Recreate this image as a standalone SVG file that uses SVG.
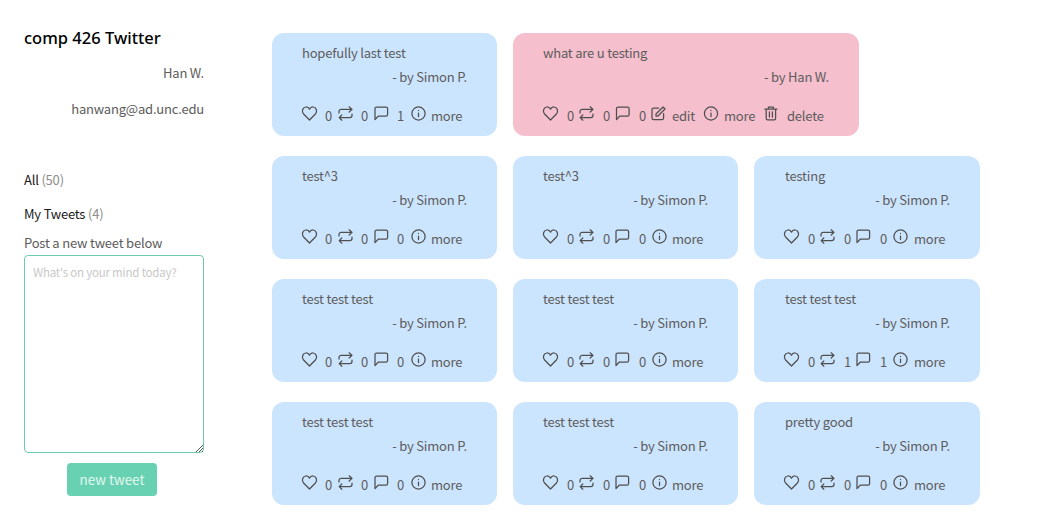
<svg xmlns="http://www.w3.org/2000/svg" width="1060" height="516" viewBox="0 0 1060 516">
<style>
text{font-family:"Noto Sans CJK SC","Noto Sans","Open Sans",sans-serif;font-size:13px;letter-spacing:-.2px;fill:#5c5c5c}
.blue{fill:#cce5fe}
.pink{fill:#f5bfcd}
.r{text-anchor:end}
.ic{fill:none;stroke:#4f4f4f;stroke-width:1.25;stroke-linecap:round;stroke-linejoin:round}
.dk{fill:#1a1a1a}
.cnt{fill:#8c8c8c}
</style>
<defs>
<g id="heart" class="ic"><path d="M7.500 14 L1.600 8 C-.6 5.600 .4 1.400 3.800 1 C5.400 .8 6.800 1.700 7.500 3.200 C8.200 1.700 9.600 .8 11.200 1 C14.600 1.400 15.600 5.600 13.400 8 Z"/></g>
<g id="rt" class="ic"><path d="M1 7 V5.500 C1 4.300 2 3.400 3.200 3.400 H14 M11.200 .8 L14 3.400 L11.200 6 M14 8 V9.500 C14 10.700 13 11.600 11.800 11.600 H1.200 M3.800 9 L1.200 11.600 L3.800 14.200"/></g>
<g id="cm" class="ic"><path d="M1 13.600 V2.600 C1 1.600 1.700 1 2.600 1 H12 C12.900 1 13.600 1.600 13.600 2.600 V8.400 C13.600 9.400 12.900 10 12 10 H4.400 Z"/></g>
<g id="info" class="ic"><circle cx="7.500" cy="7.500" r="6.600"/><path d="M7.500 7 V10.600 M7.500 4.400 V4.600"/></g>
<g id="edit" class="ic"><path d="M12.600 7.600 V12 C12.600 13 11.900 13.600 11 13.600 H2.600 C1.700 13.600 1 13 1 12 V3.600 C1 2.700 1.700 2 2.600 2 H7.600 M5 8 L5 10 L7 10 L14 3 L12 1 Z"/></g>
<g id="trash" class="ic"><path d="M.8 3 H13 M4.400 3 V1 H9.400 V3 M2.200 3 V12.400 C2.200 13.200 2.800 13.800 3.600 13.800 H10.200 C11 13.800 11.600 13.200 11.600 12.400 V3 M5.400 5.800 V11 M8.400 5.800 V11"/></g>
<g id="stats">
<use href="#heart" x="30" y="73"/><use href="#rt" x="66" y="73"/><use href="#cm" x="102" y="73"/><use href="#info" x="139" y="73"/>
</g>
</defs>
<rect width="1060" height="516" fill="#fff"/>
<g id="sidebar">
<text x="24" y="44" style="font-family:'Noto Sans',sans-serif;font-size:16.500px;font-weight:500;letter-spacing:0;fill:#000">comp 426 Twitter</text>
<text x="204" y="78" class="r">Han W.</text>
<text x="204" y="114" class="r">hanwang@ad.unc.edu</text>
<text x="24" y="185" class="dk">All <tspan class="cnt">(50)</tspan></text>
<text x="24" y="219" class="dk">My Tweets <tspan class="cnt">(4)</tspan></text>
<text x="24" y="248">Post a new tweet below</text>
</g>
<g id="tweet-input">
<rect x="24.500" y="255.500" width="179" height="197" rx="3.500" fill="#fff" stroke="#6fc9ae"/>
<text x="33" y="277" style="font-size:11.500px;fill:#c8c8c8">What's on your mind today?</text>
<path d="M196 452 L203 445 M199 452 L203 448 M202 452 L203 451" stroke="#555" stroke-width="1" fill="none"/>
</g>
<g id="new-tweet">
<rect x="67" y="463" width="90" height="33" rx="4" fill="#68d1b1"/>
<text x="112" y="485" text-anchor="middle" style="font-size:13.400px;letter-spacing:0;fill:#e4f8f1">new tweet</text>
</g>
<g id="tweet-1" transform="translate(272 33)"><rect class="blue" width="225" height="103" rx="12"/><text x="30" y="25">hopefully last test</text><text x="195" y="49" class="r">- by Simon P.</text><use href="#stats"/><text x="53" y="88">0</text><text x="89" y="88">0</text><text x="125" y="88">1</text><text x="159" y="88">more</text></g>
<g id="tweet-2" transform="translate(513 33)"><rect class="pink" width="346" height="103" rx="12"/><text x="30" y="25">what are u testing</text><text x="316" y="49" class="r">- by Han W.</text><use href="#heart" x="30" y="73"/><use href="#rt" x="66" y="73"/><use href="#cm" x="102.500" y="73"/><use href="#edit" x="138" y="73"/><use href="#info" x="190.500" y="73"/><use href="#trash" x="251" y="73"/><text x="54" y="88">0</text><text x="90" y="88">0</text><text x="126" y="88">0</text><text x="159" y="88">edit</text><text x="211" y="88">more</text><text x="274" y="88">delete</text></g>
<g id="tweet-3" transform="translate(272 156)"><rect class="blue" width="225" height="103" rx="12"/><text x="30" y="25">test^3</text><text x="195" y="49" class="r">- by Simon P.</text><use href="#stats"/><text x="53" y="88">0</text><text x="89" y="88">0</text><text x="125" y="88">0</text><text x="159" y="88">more</text></g>
<g id="tweet-4" transform="translate(513 156)"><rect class="blue" width="225" height="103" rx="12"/><text x="30" y="25">test^3</text><text x="195" y="49" class="r">- by Simon P.</text><use href="#stats"/><text x="54" y="88">0</text><text x="90" y="88">0</text><text x="126" y="88">0</text><text x="159" y="88">more</text></g>
<g id="tweet-5" transform="translate(754 156)"><rect class="blue" width="226" height="103" rx="12"/><text x="31" y="25">testing</text><text x="196" y="49" class="r">- by Simon P.</text><use href="#stats"/><text x="54" y="88">0</text><text x="90" y="88">0</text><text x="126" y="88">0</text><text x="160" y="88">more</text></g>
<g id="tweet-6" transform="translate(272 279)"><rect class="blue" width="225" height="103" rx="12"/><text x="30" y="25">test test test</text><text x="195" y="49" class="r">- by Simon P.</text><use href="#stats"/><text x="53" y="88">0</text><text x="89" y="88">0</text><text x="125" y="88">0</text><text x="159" y="88">more</text></g>
<g id="tweet-7" transform="translate(513 279)"><rect class="blue" width="225" height="103" rx="12"/><text x="30" y="25">test test test</text><text x="195" y="49" class="r">- by Simon P.</text><use href="#stats"/><text x="54" y="88">0</text><text x="90" y="88">0</text><text x="126" y="88">0</text><text x="159" y="88">more</text></g>
<g id="tweet-8" transform="translate(754 279)"><rect class="blue" width="226" height="103" rx="12"/><text x="31" y="25">test test test</text><text x="196" y="49" class="r">- by Simon P.</text><use href="#stats"/><text x="54" y="88">0</text><text x="90" y="88">1</text><text x="126" y="88">1</text><text x="160" y="88">more</text></g>
<g id="tweet-9" transform="translate(272 402)"><rect class="blue" width="225" height="103" rx="12"/><text x="30" y="25">test test test</text><text x="195" y="49" class="r">- by Simon P.</text><use href="#stats"/><text x="53" y="88">0</text><text x="89" y="88">0</text><text x="125" y="88">0</text><text x="159" y="88">more</text></g>
<g id="tweet-10" transform="translate(513 402)"><rect class="blue" width="225" height="103" rx="12"/><text x="30" y="25">test test test</text><text x="195" y="49" class="r">- by Simon P.</text><use href="#stats"/><text x="54" y="88">0</text><text x="90" y="88">0</text><text x="126" y="88">0</text><text x="159" y="88">more</text></g>
<g id="tweet-11" transform="translate(754 402)"><rect class="blue" width="226" height="103" rx="12"/><text x="31" y="25">pretty good</text><text x="196" y="49" class="r">- by Simon P.</text><use href="#stats"/><text x="54" y="88">0</text><text x="90" y="88">0</text><text x="126" y="88">0</text><text x="160" y="88">more</text></g>
</svg>
